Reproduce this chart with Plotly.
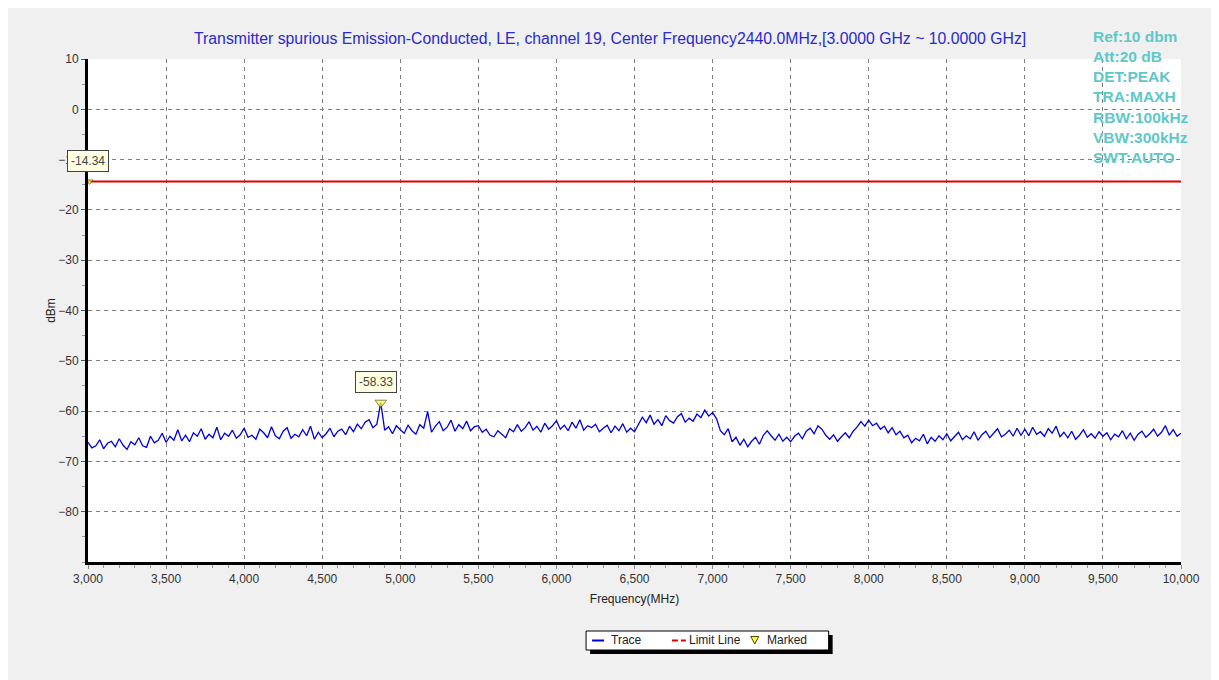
import plotly.graph_objects as go

# ---------------- data ----------------
freq_start = 3000
freq_step = 25
trace_dbm = [
    -66.2, -67.3, -66.9, -65.7, -67.5, -66.4, -66.0, -67.1, -65.5, -66.8,
    -67.6, -66.1, -66.7, -65.3, -66.9, -67.2, -65.0, -66.3, -65.8, -64.4,
    -66.2, -65.0, -65.8, -63.7, -65.9, -64.8, -66.1, -64.3, -65.0, -63.5,
    -65.6, -64.6, -65.3, -63.2, -65.7, -64.4, -65.0, -63.8, -65.4, -64.7,
    -63.4, -65.2, -64.8, -65.6, -63.6, -64.3, -65.3, -63.1, -64.9, -65.5,
    -64.0, -63.3, -65.4, -64.6, -65.1, -63.7, -64.9, -63.0, -65.6, -64.2,
    -65.3, -64.5, -63.4, -65.1, -64.0, -63.6, -64.7, -63.0, -64.1, -62.6,
    -63.5, -62.2, -61.7, -63.3, -62.6, -58.33, -63.8, -63.1, -64.5, -62.9,
    -63.7, -64.4, -62.8, -63.9, -64.6, -62.7, -63.4, -60.1, -64.2, -63.0,
    -62.1, -63.9, -63.2, -61.8, -64.0, -62.7, -63.5, -62.0, -63.9, -63.1,
    -62.9, -64.2, -63.6, -64.8, -65.1, -63.9, -64.6, -65.3, -63.5, -64.1,
    -62.7, -64.0, -63.3, -62.1, -63.8, -63.0, -64.2, -62.4, -63.6, -62.9,
    -61.9, -63.6, -62.8, -63.9, -62.2, -63.4, -61.7, -63.8, -62.9, -63.3,
    -62.6, -64.1, -63.4, -62.8, -64.3, -63.0, -63.9, -62.5, -64.2, -63.4,
    -64.1, -62.5, -61.2, -62.3, -60.8, -62.6, -61.7, -62.9, -60.9, -61.9,
    -62.4, -61.1, -60.5, -62.2, -61.4, -62.0, -60.6, -61.3, -59.8, -61.0,
    -60.3, -61.5, -63.9, -64.7, -63.5, -66.1, -65.2, -66.8, -65.6, -67.1,
    -66.0, -65.2, -66.6, -64.8, -63.9, -64.9, -65.8, -64.6, -66.0, -65.2,
    -66.1, -65.0, -64.4, -65.5, -64.0, -63.4, -64.5, -62.9, -63.6, -64.8,
    -65.6, -64.7, -66.0, -65.1, -64.3, -65.3, -64.0, -63.2, -62.1, -63.0,
    -61.8, -62.9, -62.4, -63.6, -63.0, -64.3, -63.3, -64.7, -64.0, -65.3,
    -64.8, -66.3, -65.4, -65.9, -64.6, -66.5, -65.2, -66.0, -64.9, -65.7,
    -64.5, -65.9, -65.1, -64.2, -65.7, -64.9, -65.5, -64.1, -65.8, -64.7,
    -64.0, -65.3, -64.4, -63.5, -65.1, -64.6, -63.8, -65.0, -63.4, -64.8,
    -63.6, -64.9, -63.2, -64.6, -64.1, -65.0, -63.5, -64.4, -63.0, -65.1,
    -64.2, -65.3, -64.0, -65.6, -64.8, -63.7, -65.2, -64.5, -65.4, -64.1,
    -65.0, -64.3, -65.7, -64.6, -65.1, -63.9, -65.5, -64.4, -65.8, -64.6,
    -64.0, -65.2, -64.5, -63.6, -65.0, -64.2, -62.9, -64.8, -63.7, -65.0,
    -64.4,
]
freqs = [freq_start + i * freq_step for i in range(len(trace_dbm))]

limit_dbm = -14.34
limit_freqs = [3000, 10000]

marker_freqs = [3010, 4875]
marker_vals = [-14.34, -58.33]
marker_labels = ["-14.34", "-58.33"]

x_ticks = [3000, 3500, 4000, 4500, 5000, 5500, 6000, 6500, 7000, 7500,
           8000, 8500, 9000, 9500, 10000]
x_tick_labels = ["3,000", "3,500", "4,000", "4,500", "5,000", "5,500", "6,000",
                 "6,500", "7,000", "7,500", "8,000", "8,500", "9,000", "9,500", "10,000"]
y_ticks = [10, 0, -10, -20, -30, -40, -50, -60, -70, -80]

legend_names = ["Trace", "Limit Line", "Marked"]

title_text = ("Transmitter spurious Emission-Conducted, LE, channel 19, "
              "Center Frequency2440.0MHz,[3.0000 GHz ~ 10.0000 GHz]")
info_lines = ["Ref:10 dbm", "Att:20 dB", "DET:PEAK", "TRA:MAXH",
              "RBW:100kHz", "VBW:300kHz", "SWT:AUTO"]

# ---------------- figure ----------------
FONT = "Arial, Liberation Sans, sans-serif"
TRACE_COLOR = "#0000dd"
LIMIT_COLOR = "#e00000"
MARK_COLOR = "#ffff33"

# plot-area geometry in page pixels (used only for placing the legend box)
PL, PR, PT, PB = 88, 1183, 59, 562
def px(x):
    return (x - PL) / (PR - PL)
def py(y):
    return (PB - y) / (PB - PT)

fig = go.Figure()

fig.add_trace(go.Scatter(
    x=freqs, y=trace_dbm, mode="lines", name=legend_names[0],
    line=dict(color=TRACE_COLOR, width=1.3), showlegend=False,
))
fig.add_trace(go.Scatter(
    x=limit_freqs, y=[limit_dbm, limit_dbm], mode="lines", name=legend_names[1],
    line=dict(color=LIMIT_COLOR, width=2), showlegend=False,
))
fig.add_trace(go.Scatter(
    x=marker_freqs, y=marker_vals, mode="markers", name=legend_names[2],
    marker=dict(symbol="triangle-down", color=MARK_COLOR, size=[6, 10],
                line=dict(color="#555500", width=1)),
    showlegend=False,
))

label_shifts = [(-2, 9), (-5, 10)]
for (fx, fv, lab), (xs, ys) in zip(zip(marker_freqs, marker_vals, marker_labels), label_shifts):
    fig.add_annotation(
        x=fx, y=fv, text=lab, showarrow=False,
        xanchor="center", yanchor="bottom", xshift=xs, yshift=ys,
        bgcolor="#ffffe1", bordercolor="#444444", borderwidth=1, borderpad=3,
        font=dict(family=FONT, size=12, color="#444444"),
    )

fig.add_annotation(
    x=0.4776, y=1, xref="paper", yref="paper", text=title_text, showarrow=False,
    xanchor="center", yanchor="bottom", yshift=10,
    font=dict(family=FONT, size=15.8, color="#2a2ac8"),
)

fig.add_annotation(
    x=1.0, y=1.0, xref="paper", yref="paper", text="<br>".join(info_lines),
    showarrow=False, xanchor="left", yanchor="top", align="left",
    xshift=-90, yshift=33,
    font=dict(family=FONT, size=15.5, color="#5ec8c8", weight="bold"),
)

# ---- legend box (drawn by hand to match the compact original) ----
P = dict(xref="paper", yref="paper")
fig.add_shape(type="rect", x0=px(591), x1=px(834), y0=py(654), y1=py(635),
              fillcolor="black", line=dict(width=0), **P)
fig.add_shape(type="rect", x0=px(587), x1=px(830), y0=py(650), y1=py(631),
              fillcolor="white", line=dict(color="black", width=1), **P)
ly = 640.5
fig.add_shape(type="line", x0=px(593), x1=px(605), y0=py(ly), y1=py(ly),
              line=dict(color=TRACE_COLOR, width=2), **P)
fig.add_shape(type="line", x0=px(673), x1=px(679), y0=py(ly), y1=py(ly),
              line=dict(color=LIMIT_COLOR, width=2), **P)
fig.add_shape(type="line", x0=px(682), x1=px(687), y0=py(ly), y1=py(ly),
              line=dict(color=LIMIT_COLOR, width=2), **P)
tri = (f"M {px(752):.5f},{py(636.5):.5f} L {px(760):.5f},{py(636.5):.5f} "
       f"L {px(756):.5f},{py(644):.5f} Z")
fig.add_shape(type="path", path=tri, fillcolor=MARK_COLOR,
              line=dict(color="#444400", width=1), **P)
for name, lx in zip(legend_names, [611, 689, 767]):
    fig.add_annotation(x=px(lx), y=py(640), text=name, showarrow=False,
                       xanchor="left", yanchor="middle", borderpad=0,
                       font=dict(family=FONT, size=12, color="#222222"), **P)

fig.update_layout(
    width=1204, height=672,
    margin=dict(l=80, r=29, t=51, b=118),
    paper_bgcolor="#f0f0f0", plot_bgcolor="white",
    font=dict(family=FONT, size=12, color="#333333"),
    showlegend=False,
    xaxis=dict(
        range=[3000, 10000], tickvals=x_ticks, ticktext=x_tick_labels,
        showgrid=True, gridcolor="#808080", griddash="4px,4px", gridwidth=1,
        showline=True, linecolor="black", linewidth=3,
        ticks="outside", ticklen=4, tickcolor="#888888",
        minor=dict(dtick=100, ticks="outside", ticklen=3, tickcolor="#999999", showgrid=False),
        tickfont=dict(family=FONT, size=12, color="#333333"),
        title=dict(text="Frequency(MHz)", font=dict(family=FONT, size=12, color="#222222"), standoff=10),
        zeroline=False, mirror=False,
    ),
    yaxis=dict(
        range=[-90, 10], tickvals=y_ticks,
        showgrid=True, gridcolor="#808080", griddash="4px,4px", gridwidth=1,
        showline=True, linecolor="black", linewidth=3,
        ticks="outside", ticklen=4, tickcolor="#555555",
        minor=dict(dtick=5, ticks="outside", ticklen=3, tickcolor="#999999", showgrid=False),
        tickfont=dict(family=FONT, size=12, color="#333333"),
        title=dict(text="dBm", font=dict(family=FONT, size=12, color="#222222"), standoff=0),
        zeroline=False, mirror=False,
    ),
)

fig.write_html("out.html")
